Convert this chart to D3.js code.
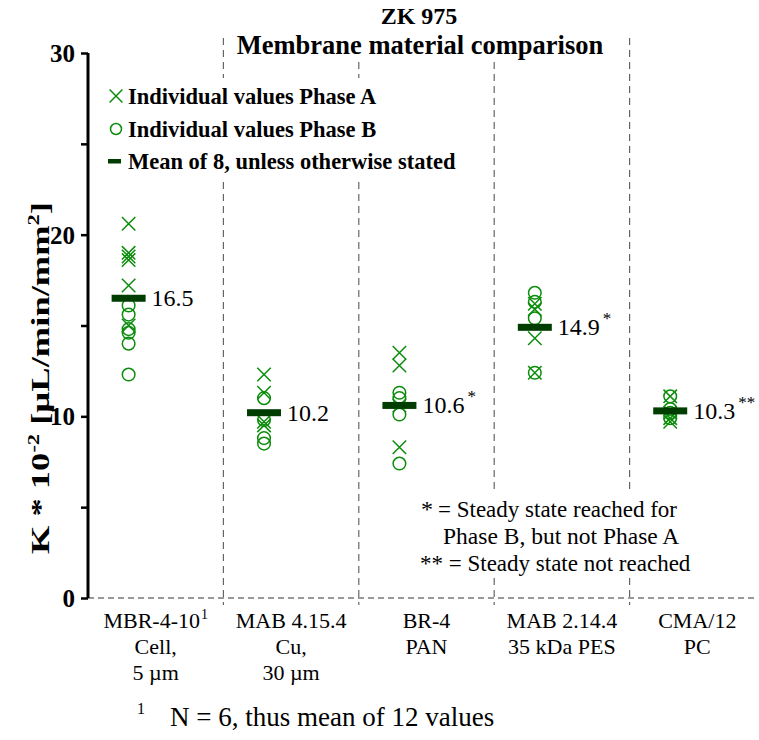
<!DOCTYPE html>
<html>
<head>
<meta charset="utf-8">
<script src="https://d3js.org/d3.v7.min.js"></script>
<style>
  body { margin: 0; background: #fff; }
  svg text { font-family: "Liberation Serif", "Times New Roman", serif; }
</style>
</head>
<body>
<div id="chart"></div>
<script>
// data
var categories = ["MBR-4-10", "MAB 4.15.4", "BR-4", "MAB 2.14.4", "CMA/12"];
var categoryLines = [
  ["MBR-4-10", "Cell,", "5 µm"],
  ["MAB 4.15.4", "Cu,", "30 µm"],
  ["BR-4", "PAN"],
  ["MAB 2.14.4", "35 kDa PES"],
  ["CMA/12", "PC"]
];
var phaseA = [
  [20.6, 19.0, 18.8, 18.6, 17.2, 15.0],
  [12.3, 11.3, 9.7, 9.5],
  [13.5, 12.8, 10.6, 8.3],
  [16.2, 15.9, 14.3, 12.4],
  [11.1, 10.2, 9.9, 9.7]
];
var phaseB = [
  [16.1, 15.6, 14.8, 14.6, 14.0, 12.3],
  [11.0, 9.8, 8.8, 8.5],
  [11.3, 11.0, 10.1, 7.4],
  [16.8, 16.3, 15.4, 12.4],
  [11.1, 10.4, 10.2, 9.9]
];
var means = [16.5, 10.2, 10.6, 14.9, 10.3];
var meanNotes = ["", "", "*", "*", "**"];
var yTicks = [0, 5, 10, 15, 20, 25, 30];
var yTickLabels = ["0", "", "10", "", "20", "", "30"];

var svgWidth = 759;
var svgHeight = 740;
var green = "#0b8c0b";
var darkGreen = "#003d00";
var serif = "Liberation Serif, Times New Roman, serif";

var svg = d3.select("#chart")
  .append("svg")
  .attr("width", svgWidth)
  .attr("height", svgHeight)
  .attr("font-family", serif);

// scales
var x = d3.scaleBand()
  .domain(categories)
  .range([88, 765]);

var y = d3.scaleLinear()
  .domain([0, 30])
  .range([598, 53]);

var step = x.step();
var px = function(c) { return x(c) + step * 0.3; };

// vertical dashed separators between categories
var seps = categories.slice(1);
svg.selectAll(".sep").data(seps).enter()
  .append("line")
  .attr("x1", d => x(d)).attr("x2", d => x(d))
  .attr("y1", 38).attr("y2", 605)
  .attr("stroke", "#666")
  .attr("stroke-width", 1.2)
  .attr("stroke-dasharray", "7,5");

// dashed baseline
svg.append("line")
  .attr("x1", 88).attr("x2", 758)
  .attr("y1", y(0)).attr("y2", y(0))
  .attr("stroke", "#333")
  .attr("stroke-width", 1.2)
  .attr("stroke-dasharray", "6,4");

// title with white backing
var titleG = svg.append("g");
titleG.append("rect")
  .attr("x", 226).attr("y", 33).attr("width", 390).attr("height", 26)
  .attr("fill", "#fff");
titleG.append("text")
  .attr("x", 419).attr("y", 24)
  .attr("text-anchor", "middle")
  .attr("font-weight", "bold")
  .attr("font-size", "24px")
  .text("ZK 975");
titleG.append("text")
  .attr("x", 420).attr("y", 54)
  .attr("text-anchor", "middle")
  .attr("font-weight", "bold")
  .attr("font-size", "26.5px")
  .text("Membrane material comparison");

// y axis
var yAxis = d3.axisLeft(y)
  .tickValues(yTicks)
  .tickSize(7)
  .tickPadding(6)
  .tickFormat((d, i) => yTickLabels[i]);

var yG = svg.append("g")
  .attr("transform", "translate(88,0)")
  .call(yAxis);
yG.select(".domain").attr("stroke-width", 3).attr("d", "M0," + y(30) + "V" + y(0));
yG.selectAll(".tick line").attr("stroke-width", 2.5);
yG.selectAll(".tick text")
  .attr("font-family", serif)
  .attr("font-weight", "bold")
  .attr("font-size", "25px")
  .attr("dy", "0.34em");

// y axis title, stretched to the reference's length
var yTitle = svg.append("text")
  .attr("transform", "translate(49,378) rotate(-90)")
  .attr("text-anchor", "middle")
  .attr("font-weight", "bold")
  .attr("font-size", "26px")
  .attr("textLength", 352)
  .attr("lengthAdjust", "spacingAndGlyphs");
yTitle.append("tspan").text("K * 10");
yTitle.append("tspan").attr("dy", -10).attr("font-size", "16px").text("-2");
yTitle.append("tspan").attr("dy", 10).text(" [µL/min/mm");
yTitle.append("tspan").attr("dy", -10).attr("font-size", "16px").text("2");
yTitle.append("tspan").attr("dy", 10).text("]");

// x category labels, one text per line
categories.forEach(function(c, i) {
  categoryLines[i].forEach(function(line, j) {
    var t = svg.append("text")
      .attr("x", x(c) + step / 2 - (i === 0 && j === 0 ? 4 : 0))
      .attr("y", 628 + j * 26)
      .attr("text-anchor", "middle")
      .attr("font-size", "22px")
      .text(line);
    if (i === 0 && j === 0) {
      var bb = t.node().getBBox();
      svg.append("text")
        .attr("x", bb.x + bb.width + 1)
        .attr("y", 619)
        .attr("font-size", "14px")
        .text("1");
    }
  });
});

// points
var symX = d3.symbol().type(d3.symbolX).size(120);
categories.forEach(function(c, i) {
  svg.selectAll(null).data(phaseA[i]).enter()
    .append("path")
    .attr("d", symX)
    .attr("transform", d => "translate(" + px(c) + "," + y(d) + ")")
    .attr("fill", "none")
    .attr("stroke", green)
    .attr("stroke-width", 1.5);

  svg.selectAll(null).data(phaseB[i]).enter()
    .append("circle")
    .attr("cx", px(c))
    .attr("cy", d => y(d))
    .attr("r", 6.3)
    .attr("fill", "none")
    .attr("stroke", green)
    .attr("stroke-width", 1.5);
});

// mean bars and labels
categories.forEach(function(c, i) {
  svg.append("rect")
    .attr("x", px(c) - 17)
    .attr("y", y(means[i]) - 3.5)
    .attr("width", 34)
    .attr("height", 7)
    .attr("fill", darkGreen);

  var t = svg.append("text")
    .attr("x", px(c) + 23)
    .attr("y", y(means[i]) + 8)
    .attr("font-size", "24px")
    .text(d3.format(".1f")(means[i]));
  if (meanNotes[i]) {
    t.append("tspan")
      .attr("dx", 3).attr("dy", -11)
      .attr("font-size", "17px")
      .text(meanNotes[i]);
  }
});

// legend with white backing
var legend = svg.append("g");
legend.append("rect")
  .attr("x", 100).attr("y", 78).attr("width", 380).attr("height", 100)
  .attr("fill", "#fff");
var legendRows = [
  { label: "Individual values Phase A", y: 96 },
  { label: "Individual values Phase B", y: 129 },
  { label: "Mean of 8, unless otherwise stated", y: 161 }
];
legend.append("path")
  .attr("d", d3.symbol().type(d3.symbolX).size(110))
  .attr("transform", "translate(116,96)")
  .attr("fill", "none").attr("stroke", green).attr("stroke-width", 1.5);
legend.append("circle")
  .attr("cx", 116).attr("cy", 129).attr("r", 5.5)
  .attr("fill", "none").attr("stroke", green).attr("stroke-width", 1.5);
legend.append("rect")
  .attr("x", 108).attr("y", 159).attr("width", 13).attr("height", 4.5)
  .attr("fill", darkGreen);
legend.selectAll(".lt").data(legendRows).enter()
  .append("text")
  .attr("x", 128)
  .attr("y", d => d.y + 8)
  .attr("font-weight", "bold")
  .attr("font-size", "22.5px")
  .text(d => d.label);

// steady state notes with white backing
var notes = svg.append("g");
notes.append("rect")
  .attr("x", 415).attr("y", 490).attr("width", 300).attr("height", 88)
  .attr("fill", "#fff");
notes.append("text").attr("x", 421).attr("y", 517).attr("font-size", "24px").text("*");
notes.append("text").attr("x", 438).attr("y", 517).attr("font-size", "23px").text("= Steady state reached for");
notes.append("text").attr("x", 443).attr("y", 544).attr("font-size", "23.5px").text("Phase B, but not Phase A");
notes.append("text").attr("x", 420).attr("y", 571).attr("font-size", "23px").text("** = Steady state not reached");

// footnote
svg.append("text")
  .attr("x", 137).attr("y", 714)
  .attr("font-size", "16px")
  .text("1");
svg.append("text")
  .attr("x", 170).attr("y", 726)
  .attr("font-size", "27px")
  .text("N = 6, thus mean of 12 values");
</script>
</body>
</html>
